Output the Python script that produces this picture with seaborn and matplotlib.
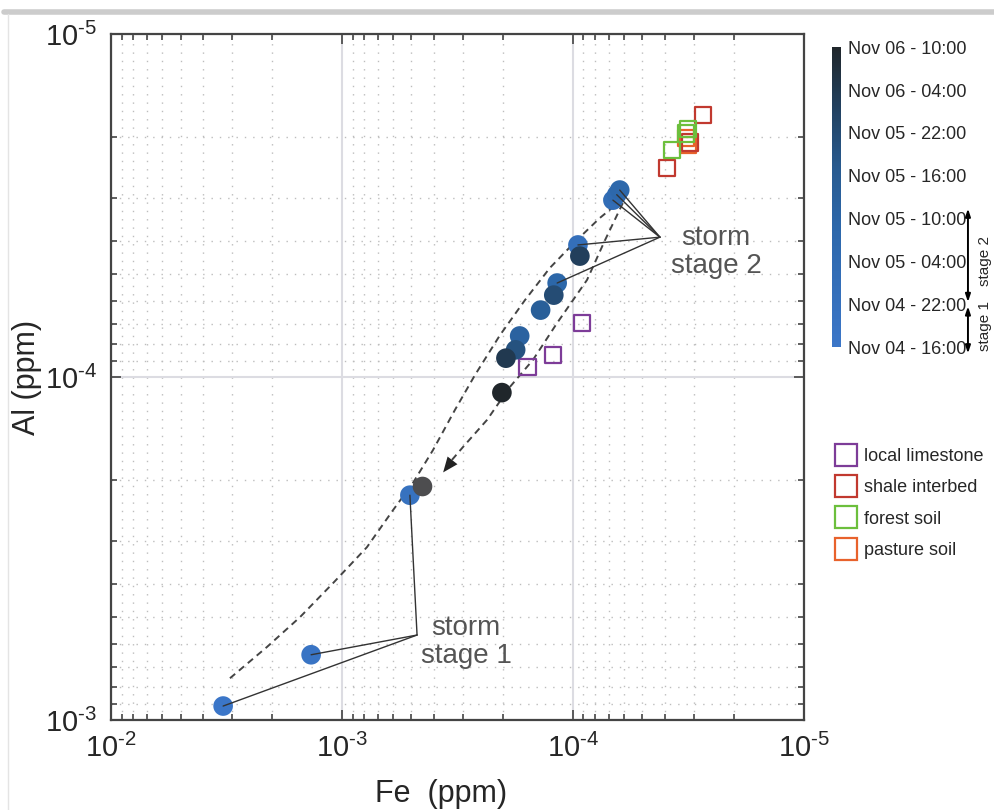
import numpy as np
import pandas as pd
import seaborn as sns
import matplotlib
matplotlib.use('Agg')
import matplotlib.pyplot as plt
from matplotlib.colors import LinearSegmentedColormap, Normalize
from matplotlib.lines import Line2D
from matplotlib.ticker import LogLocator, FuncFormatter, NullFormatter
import matplotlib.cm as cm
import matplotlib.transforms as mtransforms

# storm samples: Fe and Al (ppm), hours since Nov 04 16:00
fe = [3.27e-3, 1.36e-3, 5.08e-4, 2.03e-4, 1.95e-4, 1.77e-4, 1.70e-4, 1.38e-4,
      1.21e-4, 1.17e-4, 9.33e-5, 9.51e-5, 6.71e-5, 6.46e-5, 6.27e-5]
al = [9.1e-4, 6.45e-4, 2.21e-4, 1.11e-4, 8.81e-5, 8.33e-5, 7.59e-5, 6.38e-5,
      5.77e-5, 5.32e-5, 4.44e-5, 4.12e-5, 3.05e-5, 2.94e-5, 2.85e-5]
hours = [0, 2, 5, 42, 36, 28, 20, 22, 30, 17, 34, 8, 10, 13, 16]

# one sample without time stamp (grey)
grey_fe = [4.51e-4]
grey_al = [2.08e-4]

# which samples the "storm stage" labels point at
stage1_idx = [0, 1, 2]
stage2_idx = [9, 11, 12, 13, 14]

# end-member sources
lime_fe = [1.57e-4, 1.22e-4, 9.14e-5]
lime_al = [9.35e-5, 8.63e-5, 6.96e-5]
shale_fe = [3.92e-5, 3.12e-5, 2.74e-5]
shale_al = [2.46e-5, 2.07e-5, 1.72e-5]
forest_fe = [3.72e-5, 3.24e-5, 3.18e-5]
forest_al = [2.18e-5, 1.95e-5, 1.89e-5]
pasture_fe = [3.24e-5, 3.18e-5]
pasture_al = [2.01e-5, 2.11e-5]

source_names = ['local limestone', 'shale interbed', 'forest soil', 'pasture soil']
source_colors = ['#7d3c98', '#c1392f', '#6cbf3c', '#e8622c']

# colorbar labels (every 6 h)
time_labels = ['Nov 04 - 16:00', 'Nov 04 - 22:00', 'Nov 05 - 04:00', 'Nov 05 - 10:00',
               'Nov 05 - 16:00', 'Nov 05 - 22:00', 'Nov 06 - 04:00', 'Nov 06 - 10:00']
stage_bounds = {'stage 1': (0, 6), 'stage 2': (6, 18)}

# hysteresis loop guide (log10 Fe, log10 Al)
outer_lfe = [-2.515, -2.675, -2.818, -2.961, -3.108, -3.221, -3.307, -3.394, -3.489,
             -3.576, -3.684, -3.792, -3.900, -4.009, -4.117, -4.195]
outer_lal = [-3.122, -3.213, -3.300, -3.399, -3.504, -3.612, -3.691, -3.787, -3.904,
             -4.006, -4.122, -4.224, -4.318, -4.394, -4.464, -4.507]
inner_lfe = [-4.216, -4.139, -4.061, -3.931, -3.827, -3.727, -3.628, -3.524, -3.468]
inner_lal = [-4.507, -4.399, -4.283, -4.157, -4.050, -3.971, -3.875, -3.796, -3.752]

sns.set_style('white')
plt.rcParams['font.family'] = ['Liberation Sans', 'DejaVu Sans']
plt.rcParams['mathtext.fontset'] = 'custom'
plt.rcParams['mathtext.rm'] = 'Liberation Sans'
plt.rcParams['axes.unicode_minus'] = False

cmap = LinearSegmentedColormap.from_list(
    'storm', [(0, '#3b76c8'), (0.4, '#2c67aa'), (0.6, '#285a8f'), (0.8, '#22415f'), (1, '#20262b')])
norm = Normalize(0, 42)

fig = plt.figure(figsize=(9.94, 8.1), dpi=100)
ax = fig.add_axes([0.1117, 0.111, 0.697, 0.847])

# sources
src = pd.DataFrame({
    'fe': pasture_fe + shale_fe + forest_fe + lime_fe,
    'al': pasture_al + shale_al + forest_al + lime_al,
    'source': ['pasture soil'] * len(pasture_fe) + ['shale interbed'] * len(shale_fe)
              + ['forest soil'] * len(forest_fe) + ['local limestone'] * len(lime_fe),
})
sns.scatterplot(data=src, x='fe', y='al', hue='source', marker='s', s=140,
                palette=dict(zip(source_names, source_colors)), legend=False, ax=ax, zorder=3)
coll = ax.collections[-1]
coll.set_edgecolors(coll.get_facecolors())
coll.set_facecolors('none')
coll.set_linewidths(1.6)

# guide lines
ax.plot(10 ** np.array(outer_lfe), 10 ** np.array(outer_lal), color='#444444', lw=1.4,
        ls=(0, (3.5, 2.5)), zorder=2)
ax.plot(10 ** np.array(inner_lfe), 10 ** np.array(inner_lal), color='#444444', lw=1.4,
        ls=(0, (3.5, 2.5)), zorder=2)
ax.annotate('', xy=(10 ** (inner_lfe[-1] + 0.03), 10 ** (inner_lal[-1] + 0.03)),
            xytext=(10 ** inner_lfe[-2], 10 ** inner_lal[-2]),
            arrowprops=dict(arrowstyle='-|>,head_width=0.45,head_length=1.1',
                            color='#222222', lw=0, shrinkA=0, shrinkB=0), zorder=2)

# storm samples
df = pd.DataFrame({'fe': fe, 'al': al, 'hours': hours}).sort_values('hours')
sns.scatterplot(data=df, x='fe', y='al', hue='hours', palette=cmap, hue_norm=norm,
                s=200, linewidth=0, legend=False, ax=ax, zorder=4)
sns.scatterplot(x=grey_fe, y=grey_al, color='#4d4d4f', s=200, linewidth=0, ax=ax, zorder=4)

# storm stage labels
apex2 = (4.20e-5, 3.91e-5)
apex1 = (4.73e-4, 5.65e-4)
for i in stage2_idx:
    ax.plot([apex2[0], fe[i]], [apex2[1], al[i]], color='#333333', lw=1.0, zorder=5)
for i in stage1_idx:
    ax.plot([apex1[0], fe[i]], [apex1[1], al[i]], color='#333333', lw=1.0, zorder=5)
ax.text(2.4e-5, 4.33e-5, 'storm\nstage 2', fontsize=20, color='#555555',
        ha='center', va='center', linespacing=1.1)
ax.text(2.9e-4, 5.93e-4, 'storm\nstage 1', fontsize=20, color='#555555',
        ha='center', va='center', linespacing=1.1)


def pow10(v, pos):
    e = int(round(np.log10(v)))
    return r'$\mathdefault{10^{\text{%d}}}$' % e


ax.set_xscale('log')
ax.set_yscale('log')
ax.set_xlim(1e-2, 1e-5)
ax.set_ylim(1e-3, 1e-5)
for axis in (ax.xaxis, ax.yaxis):
    axis.set_major_locator(LogLocator(base=10, numticks=10))
    axis.set_major_formatter(FuncFormatter(pow10))
    axis.set_minor_locator(LogLocator(base=10, subs=np.arange(2, 10) * 1.0, numticks=100))
    axis.set_minor_formatter(NullFormatter())
ax.grid(which='major', color='#dcdce2', lw=1.5, ls='-', zorder=0)
ax.grid(which='minor', color='#bdbdbd', lw=1.0, ls=(0, (1, 5)), zorder=0)
ax.set_axisbelow(True)
ax.tick_params(which='both', direction='in', bottom=True, left=True, top=True, right=True,
               color='#444444', width=1.2)
ax.tick_params(which='major', length=7, labelsize=21, pad=10)
ax.tick_params(which='minor', length=4)
for sp in ax.spines.values():
    sp.set_color('#444444')
    sp.set_linewidth(1.6)
ax.set_xlabel('Fe  (ppm)', fontsize=22)
ax.set_ylabel('Al (ppm)', fontsize=22)
ax.xaxis.set_label_coords(0.476, -0.086)
ax.yaxis.set_label_coords(-0.100, 0.5)

# colorbar
cax = fig.add_axes([0.837, 0.5716, 0.009, 0.370])
cb = fig.colorbar(cm.ScalarMappable(norm=norm, cmap=cmap), cax=cax, ticks=range(0, 43, 6))
cb.set_ticklabels(time_labels)
cb.outline.set_visible(False)
cax.tick_params(length=0, labelsize=13, pad=5)
btr = mtransforms.blended_transform_factory(cax.transAxes, cax.transData)
for name, (lo, hi) in stage_bounds.items():
    ax_lo, ax_hi = lo - (0.9 if lo == 0 else -0.3), hi + (1.4 if hi == 18 else -0.3)
    cax.annotate('', xy=(15.2, ax_hi), xytext=(15.2, ax_lo), xycoords=btr, textcoords=btr,
                 arrowprops=dict(arrowstyle='<|-|>,head_width=0.15,head_length=0.45',
                                 color='black', lw=1.4, shrinkA=0, shrinkB=0),
                 annotation_clip=False)
    cax.text(17.9, (lo + hi) / 2, name, transform=btr, rotation=90, ha='right', va='center',
             fontsize=11, clip_on=False)

# legend of sources
handles = [Line2D([], [], marker='s', ls='', mfc='none', mec=c, mew=1.6, ms=16)
           for c in source_colors]
fig.legend(handles, source_names, loc='upper left', bbox_to_anchor=(0.839, 0.447),
           frameon=False, fontsize=13, handletextpad=0.35, labelspacing=0.8,
           handlelength=1.3, borderpad=0, borderaxespad=0)

# screenshot frame
fig.add_artist(Line2D([0.004, 1], [1 - 12 / 810] * 2, color='#cccccc', lw=4,
                      transform=fig.transFigure))
fig.add_artist(Line2D([0.008, 0.008], [0, 1 - 14 / 810], color='#e4e4e4', lw=1,
                      transform=fig.transFigure))

fig.savefig('out.png', dpi=100)
